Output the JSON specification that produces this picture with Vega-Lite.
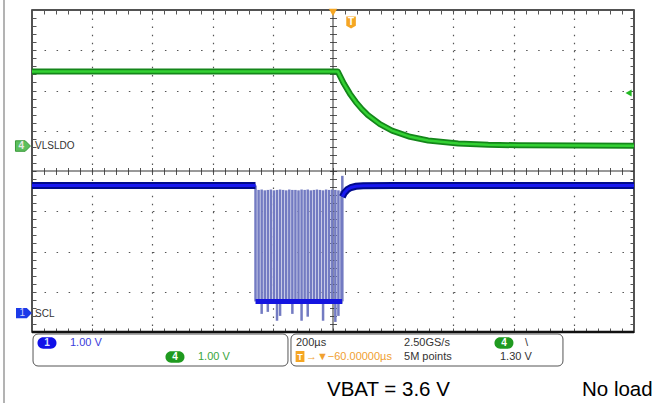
{
  "$schema": "https://vega.github.io/schema/vega-lite/v6.json",
  "width": 602,
  "height": 322,
  "autosize": {"type": "none"},
  "padding": {"left": 32, "top": 10, "right": 26, "bottom": 71},
  "background": "white",
  "config": {
    "view": {"stroke": "#1a1a1a", "strokeWidth": 1.5},
    "axis": {"labels": false, "domain": false, "title": null, "grid": false, "tickColor": "#555", "tickWidth": 1}
  },
  "data": {"values": [{}]},
  "datasets": {
    "vlsldo": [
      {"t": 0, "v": 2.47}, {"t": 5.08, "v": 2.47}, {"t": 5.18, "v": 2.172}, {"t": 5.28, "v": 1.922},
      {"t": 5.38, "v": 1.712}, {"t": 5.48, "v": 1.537}, {"t": 5.58, "v": 1.39}, {"t": 5.78, "v": 1.163},
      {"t": 5.98, "v": 1.004}, {"t": 6.28, "v": 0.85}, {"t": 6.58, "v": 0.759}, {"t": 7.08, "v": 0.683},
      {"t": 7.58, "v": 0.652}, {"t": 8.08, "v": 0.639}, {"t": 9.08, "v": 0.632}, {"t": 10, "v": 0.63}
    ],
    "scl": [
      {"seg": "a", "t": 0, "v": -0.36}, {"seg": "a", "t": 3.713, "v": -0.36},
      {"seg": "c", "t": 5.155, "v": -0.64}, {"seg": "c", "t": 5.19, "v": -0.54}, {"seg": "c", "t": 5.24, "v": -0.46},
      {"seg": "c", "t": 5.3, "v": -0.41}, {"seg": "c", "t": 5.38, "v": -0.38}, {"seg": "c", "t": 5.5, "v": -0.365},
      {"seg": "c", "t": 6, "v": -0.36}, {"seg": "c", "t": 10, "v": -0.36}
    ],
    "sclLow": [{"t": 3.713, "v": -3.24}, {"t": 5.15, "v": -3.24}],
    "pulses": [
      {"t": 3.713, "top": -0.36, "bot": -3.24}, {"t": 3.764, "top": -0.47, "bot": -3.3},
      {"t": 3.815, "top": -0.46, "bot": -3.55}, {"t": 3.866, "top": -0.48, "bot": -3.28},
      {"t": 3.917, "top": -0.47, "bot": -3.5}, {"t": 3.968, "top": -0.46, "bot": -3.26},
      {"t": 4.019, "top": -0.48, "bot": -3.27}, {"t": 4.07, "top": -0.47, "bot": -3.72},
      {"t": 4.121, "top": -0.46, "bot": -3.6}, {"t": 4.172, "top": -0.47, "bot": -3.25},
      {"t": 4.223, "top": -0.48, "bot": -3.26}, {"t": 4.274, "top": -0.46, "bot": -3.27},
      {"t": 4.325, "top": -0.47, "bot": -3.55}, {"t": 4.376, "top": -0.47, "bot": -3.26},
      {"t": 4.427, "top": -0.48, "bot": -3.25}, {"t": 4.478, "top": -0.46, "bot": -3.72},
      {"t": 4.529, "top": -0.47, "bot": -3.27}, {"t": 4.58, "top": -0.46, "bot": -3.62},
      {"t": 4.631, "top": -0.48, "bot": -3.26}, {"t": 4.682, "top": -0.47, "bot": -3.25},
      {"t": 4.733, "top": -0.46, "bot": -3.27}, {"t": 4.784, "top": -0.47, "bot": -3.26},
      {"t": 4.835, "top": -0.48, "bot": -3.72}, {"t": 4.886, "top": -0.46, "bot": -3.25},
      {"t": 4.937, "top": -0.47, "bot": -3.27}, {"t": 4.988, "top": -0.46, "bot": -3.28},
      {"t": 5.039, "top": -0.47, "bot": -3.75}, {"t": 5.09, "top": -0.48, "bot": -3.6},
      {"t": 5.141, "top": -0.5, "bot": -3.3}, {"t": 5.155, "top": -0.12, "bot": -3.24}
    ],
    "darkText": [
      {"t": 4.385, "v": -4.273, "s": "200µs"},
      {"t": 6.18, "v": -4.273, "s": "2.50GS/s"},
      {"t": 6.18, "v": -4.621, "s": "5M points"},
      {"t": 7.774, "v": -4.621, "s": "1.30 V"},
      {"t": 8.19, "v": -4.273, "s": "\\"}
    ],
    "chanText": [
      {"t": 0.05, "v": 0.62, "s": "VLSLDO"},
      {"t": 0.05, "v": -3.55, "s": "SCL"}
    ],
    "bigText": [
      {"t": 4.9, "v": -5.59, "s": "VBAT = 3.6 V"},
      {"t": 9.136, "v": -5.59, "s": "No load"}
    ],
    "pillGreen": [
      {"t": 2.375, "v": -4.621, "s": "4"},
      {"t": 7.84, "v": -4.273, "s": "4"}
    ],
    "pillBlue": [{"t": 0.249, "v": -4.273, "s": "1"}],
    "boxes": [
      {"x1": 0.017, "x2": 4.252, "y1": -4.05, "y2": -4.845},
      {"x1": 4.302, "x2": 8.82, "y1": -4.05, "y2": -4.845}
    ]
  },
  "resolve": {"axis": {"x": "independent", "y": "independent"}},
  "layer": [
    {
      "mark": {"type": "point", "opacity": 0},
      "encoding": {
        "x": {"datum": 5, "type": "quantitative", "scale": {"domain": [0, 10], "nice": false, "zero": false},
          "axis": {"values": [1, 2, 3, 4, 6, 7, 8, 9], "grid": true, "gridDash": [1.5, 6.55], "gridColor": "#555", "gridWidth": 1.2, "gridOpacity": 1, "ticks": false}},
        "y": {"datum": 0, "type": "quantitative", "scale": {"domain": [-4, 4], "nice": false, "zero": false},
          "axis": {"values": [-3, -2, -1, 1, 2, 3], "grid": true, "gridDash": [1.5, 10.54], "gridColor": "#555", "gridWidth": 1.2, "gridOpacity": 1, "ticks": false}}
      }
    },
    {
      "mark": {"type": "point", "opacity": 0},
      "encoding": {
        "x": {"datum": 5, "type": "quantitative", "axis": {"orient": "bottom", "offset": -322, "tickSize": 4,
          "values": [0,0.2,0.4,0.6,0.8,1,1.2,1.4,1.6,1.8,2,2.2,2.4,2.6,2.8,3,3.2,3.4,3.6,3.8,4,4.2,4.4,4.6,4.8,5,5.2,5.4,5.6,5.8,6,6.2,6.4,6.6,6.8,7,7.2,7.4,7.6,7.8,8,8.2,8.4,8.6,8.8,9,9.2,9.4,9.6,9.8,10]}},
        "y": {"datum": 0, "type": "quantitative", "axis": {"orient": "right", "offset": -602, "tickSize": 4,
          "values": [-4,-3.8,-3.6,-3.4,-3.2,-3,-2.8,-2.6,-2.4,-2.2,-2,-1.8,-1.6,-1.4,-1.2,-1,-0.8,-0.6,-0.4,-0.2,0,0.2,0.4,0.6,0.8,1,1.2,1.4,1.6,1.8,2,2.2,2.4,2.6,2.8,3,3.2,3.4,3.6,3.8,4]}}
      }
    },
    {
      "mark": {"type": "point", "opacity": 0},
      "encoding": {
        "x": {"datum": 5, "type": "quantitative", "axis": {"orient": "top", "offset": -322, "tickSize": 4,
          "values": [0,0.2,0.4,0.6,0.8,1,1.2,1.4,1.6,1.8,2,2.2,2.4,2.6,2.8,3,3.2,3.4,3.6,3.8,4,4.2,4.4,4.6,4.8,5,5.2,5.4,5.6,5.8,6,6.2,6.4,6.6,6.8,7,7.2,7.4,7.6,7.8,8,8.2,8.4,8.6,8.8,9,9.2,9.4,9.6,9.8,10]}},
        "y": {"datum": 0, "type": "quantitative", "axis": {"orient": "left", "offset": -602, "tickSize": 4,
          "values": [-4,-3.8,-3.6,-3.4,-3.2,-3,-2.8,-2.6,-2.4,-2.2,-2,-1.8,-1.6,-1.4,-1.2,-1,-0.8,-0.6,-0.4,-0.2,0,0.2,0.4,0.6,0.8,1,1.2,1.4,1.6,1.8,2,2.2,2.4,2.6,2.8,3,3.2,3.4,3.6,3.8,4]}}
      }
    },
    {
      "mark": {"type": "point", "opacity": 0},
      "encoding": {
        "x": {"datum": 5, "type": "quantitative", "axis": {"orient": "bottom", "offset": -164.5, "tickSize": 7,
          "values": [0,0.2,0.4,0.6,0.8,1,1.2,1.4,1.6,1.8,2,2.2,2.4,2.6,2.8,3,3.2,3.4,3.6,3.8,4,4.2,4.4,4.6,4.8,5,5.2,5.4,5.6,5.8,6,6.2,6.4,6.6,6.8,7,7.2,7.4,7.6,7.8,8,8.2,8.4,8.6,8.8,9,9.2,9.4,9.6,9.8,10]}},
        "y": {"datum": 0, "type": "quantitative", "axis": {"orient": "right", "offset": -304.5, "tickSize": 7,
          "values": [-4,-3.8,-3.6,-3.4,-3.2,-3,-2.8,-2.6,-2.4,-2.2,-2,-1.8,-1.6,-1.4,-1.2,-1,-0.8,-0.6,-0.4,-0.2,0,0.2,0.4,0.6,0.8,1,1.2,1.4,1.6,1.8,2,2.2,2.4,2.6,2.8,3,3.2,3.4,3.6,3.8,4]}}
      }
    },
    {
      "mark": {"type": "rule", "color": "#333", "strokeWidth": 1},
      "encoding": {"x": {"datum": 5, "type": "quantitative", "axis": null}}
    },
    {
      "mark": {"type": "rule", "color": "#333", "strokeWidth": 1},
      "encoding": {"y": {"datum": 0, "type": "quantitative", "axis": null}}
    },
    {
      "mark": {"type": "rule", "color": "#111", "strokeWidth": 2.5},
      "encoding": {"y": {"datum": -4, "type": "quantitative", "axis": null}}
    },
    {
      "mark": {"type": "rule", "color": "#9a9a9a", "strokeWidth": 1.5},
      "encoding": {
        "x": {"datum": -0.465, "type": "quantitative", "axis": null},
        "y": {"datum": 4.25, "type": "quantitative", "axis": null},
        "y2": {"datum": -5.77}
      }
    },
    {
      "data": {"name": "vlsldo"},
      "mark": {"type": "line", "color": "#14861a", "strokeWidth": 6, "strokeJoin": "round"},
      "encoding": {"x": {"field": "t", "type": "quantitative", "axis": null}, "y": {"field": "v", "type": "quantitative", "axis": null}}
    },
    {
      "data": {"name": "vlsldo"},
      "mark": {"type": "line", "color": "#33d133", "strokeWidth": 2.5, "strokeJoin": "round"},
      "encoding": {"x": {"field": "t", "type": "quantitative", "axis": null}, "y": {"field": "v", "type": "quantitative", "axis": null}}
    },
    {
      "data": {"name": "pulses"},
      "mark": {"type": "rule", "color": "#737bc2", "strokeWidth": 2.5},
      "encoding": {
        "x": {"field": "t", "type": "quantitative", "axis": null},
        "y": {"field": "top", "type": "quantitative", "axis": null},
        "y2": {"field": "bot"}
      }
    },
    {
      "data": {"name": "sclLow"},
      "mark": {"type": "line", "color": "#1414e0", "strokeWidth": 5},
      "encoding": {"x": {"field": "t", "type": "quantitative", "axis": null}, "y": {"field": "v", "type": "quantitative", "axis": null}}
    },
    {
      "data": {"name": "scl"},
      "mark": {"type": "line", "color": "#000a8c", "strokeWidth": 7},
      "encoding": {"x": {"field": "t", "type": "quantitative", "axis": null}, "y": {"field": "v", "type": "quantitative", "axis": null}, "detail": {"field": "seg"}}
    },
    {
      "data": {"name": "scl"},
      "mark": {"type": "line", "color": "#1818f0", "strokeWidth": 3},
      "encoding": {"x": {"field": "t", "type": "quantitative", "axis": null}, "y": {"field": "v", "type": "quantitative", "axis": null}, "detail": {"field": "seg"}}
    },
    {
      "data": {"name": "boxes"},
      "mark": {"type": "rect", "fillOpacity": 0, "fill": "white", "stroke": "#555", "strokeWidth": 1, "cornerRadius": 5},
      "encoding": {
        "x": {"field": "x1", "type": "quantitative", "axis": null}, "x2": {"field": "x2"},
        "y": {"field": "y1", "type": "quantitative", "axis": null}, "y2": {"field": "y2"}
      }
    },
    {
      "data": {"name": "pillGreen"},
      "mark": {"type": "point", "filled": true, "color": "#1f9a1f", "opacity": 1, "size": 361,
        "shape": "M-0.4,-0.6 L0.4,-0.6 A0.6,0.6 0 0 1 0.4,0.6 L-0.4,0.6 A0.6,0.6 0 0 1 -0.4,-0.6 Z"},
      "encoding": {"x": {"field": "t", "type": "quantitative", "axis": null}, "y": {"field": "v", "type": "quantitative", "axis": null}}
    },
    {
      "data": {"name": "pillBlue"},
      "mark": {"type": "point", "filled": true, "color": "#1010e8", "opacity": 1, "size": 361,
        "shape": "M-0.4,-0.6 L0.4,-0.6 A0.6,0.6 0 0 1 0.4,0.6 L-0.4,0.6 A0.6,0.6 0 0 1 -0.4,-0.6 Z"},
      "encoding": {"x": {"field": "t", "type": "quantitative", "axis": null}, "y": {"field": "v", "type": "quantitative", "axis": null}}
    },
    {
      "data": {"name": "pillGreen"},
      "mark": {"type": "text", "color": "white", "font": "Liberation Sans", "fontSize": 10, "fontWeight": "bold", "baseline": "middle", "align": "center"},
      "encoding": {"x": {"field": "t", "type": "quantitative", "axis": null}, "y": {"field": "v", "type": "quantitative", "axis": null}, "text": {"field": "s"}}
    },
    {
      "data": {"name": "pillBlue"},
      "mark": {"type": "text", "color": "#dde0ff", "font": "Liberation Sans", "fontSize": 10, "fontWeight": "bold", "baseline": "middle", "align": "center"},
      "encoding": {"x": {"field": "t", "type": "quantitative", "axis": null}, "y": {"field": "v", "type": "quantitative", "axis": null}, "text": {"field": "s"}}
    },
    {
      "mark": {"type": "point", "filled": true, "color": "#5cbf5c", "stroke": "#3a9a3a", "strokeWidth": 1, "opacity": 1, "size": 225,
        "shape": "M-1,-0.7 L0.3,-0.7 L1,0 L0.3,0.7 L-1,0.7 Z"},
      "encoding": {"x": {"datum": -0.15, "type": "quantitative", "axis": null}, "y": {"datum": 0.62, "type": "quantitative", "axis": null}}
    },
    {
      "mark": {"type": "text", "text": "4", "color": "#e8e8e8", "font": "Liberation Sans", "fontSize": 10, "fontWeight": "bold", "baseline": "middle", "align": "center"},
      "encoding": {"x": {"datum": -0.18, "type": "quantitative", "axis": null}, "y": {"datum": 0.62, "type": "quantitative", "axis": null}}
    },
    {
      "mark": {"type": "point", "filled": true, "color": "#1c3ae8", "opacity": 1, "size": 256,
        "shape": "M-1,-0.65 L0.35,-0.65 L1,0 L0.35,0.65 L-1,0.65 Z"},
      "encoding": {"x": {"datum": -0.133, "type": "quantitative", "axis": null}, "y": {"datum": -3.53, "type": "quantitative", "axis": null}}
    },
    {
      "mark": {"type": "text", "text": "1", "color": "#c8d0ff", "font": "Liberation Sans", "fontSize": 10, "baseline": "middle", "align": "center"},
      "encoding": {"x": {"datum": -0.16, "type": "quantitative", "axis": null}, "y": {"datum": -3.53, "type": "quantitative", "axis": null}}
    },
    {
      "mark": {"type": "point", "filled": true, "color": "#f5a623", "opacity": 1, "size": 70, "shape": "triangle-down"},
      "encoding": {"x": {"datum": 5, "type": "quantitative", "axis": null}, "y": {"datum": 3.94, "type": "quantitative", "axis": null}}
    },
    {
      "mark": {"type": "point", "filled": true, "color": "#f5a623", "opacity": 1, "size": 144,
        "shape": "M-0.8,-1 L0.8,-1 L0.8,0.55 L0,1 L-0.8,0.55 Z"},
      "encoding": {"x": {"datum": 5.3, "type": "quantitative", "axis": null}, "y": {"datum": 3.69, "type": "quantitative", "axis": null}}
    },
    {
      "mark": {"type": "text", "text": "T", "color": "white", "font": "Liberation Sans", "fontSize": 10, "fontWeight": "bold", "baseline": "middle", "align": "center"},
      "encoding": {"x": {"datum": 5.3, "type": "quantitative", "axis": null}, "y": {"datum": 3.7, "type": "quantitative", "axis": null}}
    },
    {
      "mark": {"type": "point", "filled": true, "color": "#f5a623", "opacity": 1, "size": 121,
        "shape": "M-0.8,-1 L0.8,-1 L0.8,1 L-0.8,1 Z"},
      "encoding": {"x": {"datum": 4.452, "type": "quantitative", "axis": null}, "y": {"datum": -4.609, "type": "quantitative", "axis": null}}
    },
    {
      "mark": {"type": "text", "text": "T", "color": "white", "font": "Liberation Sans", "fontSize": 9, "fontWeight": "bold", "baseline": "middle", "align": "center"},
      "encoding": {"x": {"datum": 4.452, "type": "quantitative", "axis": null}, "y": {"datum": -4.609, "type": "quantitative", "axis": null}}
    },
    {
      "mark": {"type": "point", "filled": true, "color": "#22b822", "opacity": 1, "size": 50, "shape": "triangle-left"},
      "encoding": {"x": {"datum": 9.91, "type": "quantitative", "axis": null}, "y": {"datum": 1.94, "type": "quantitative", "axis": null}}
    },
    {
      "data": {"name": "chanText"},
      "mark": {"type": "text", "color": "#333", "font": "Liberation Sans", "fontSize": 10, "baseline": "middle", "align": "left"},
      "encoding": {"x": {"field": "t", "type": "quantitative", "axis": null}, "y": {"field": "v", "type": "quantitative", "axis": null}, "text": {"field": "s"}}
    },
    {
      "data": {"name": "darkText"},
      "mark": {"type": "text", "color": "#333", "font": "Liberation Sans", "fontSize": 11, "baseline": "middle", "align": "left"},
      "encoding": {"x": {"field": "t", "type": "quantitative", "axis": null}, "y": {"field": "v", "type": "quantitative", "axis": null}, "text": {"field": "s"}}
    },
    {
      "mark": {"type": "text", "text": "1.00 V", "color": "#3c3cdc", "font": "Liberation Sans", "fontSize": 11, "baseline": "middle", "align": "left"},
      "encoding": {"x": {"datum": 0.631, "type": "quantitative", "axis": null}, "y": {"datum": -4.273, "type": "quantitative", "axis": null}}
    },
    {
      "mark": {"type": "text", "text": "1.00 V", "color": "#3aa53a", "font": "Liberation Sans", "fontSize": 11, "baseline": "middle", "align": "left"},
      "encoding": {"x": {"datum": 2.757, "type": "quantitative", "axis": null}, "y": {"datum": -4.621, "type": "quantitative", "axis": null}}
    },
    {
      "mark": {"type": "text", "text": "→▼−60.00000µs", "color": "#f0a030", "font": "Liberation Sans", "fontSize": 11, "baseline": "middle", "align": "left"},
      "encoding": {"x": {"datum": 4.55, "type": "quantitative", "axis": null}, "y": {"datum": -4.621, "type": "quantitative", "axis": null}}
    },
    {
      "data": {"name": "bigText"},
      "mark": {"type": "text", "color": "#000", "font": "Liberation Sans", "fontSize": 20.5, "baseline": "alphabetic", "align": "left"},
      "encoding": {"x": {"field": "t", "type": "quantitative", "axis": null}, "y": {"field": "v", "type": "quantitative", "axis": null}, "text": {"field": "s"}}
    }
  ]
}
